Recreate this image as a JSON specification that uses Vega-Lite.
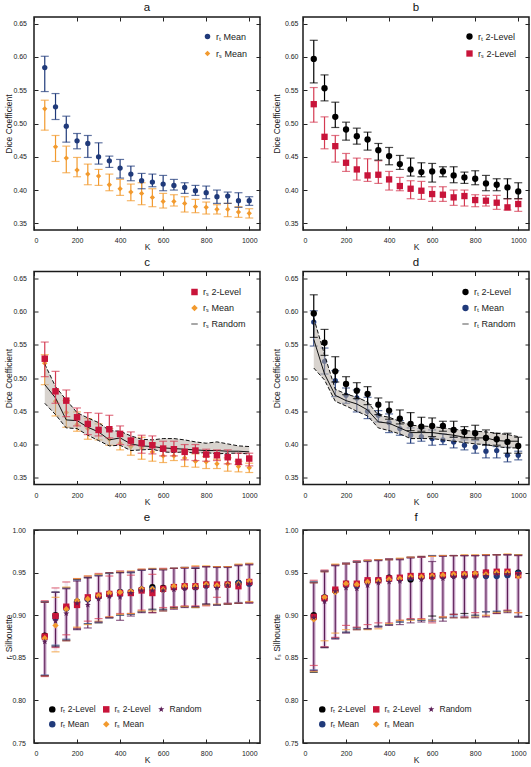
{
"$schema":"https://vega.github.io/schema/vega-lite/v6.json",
"padding":{"left":3,"top":1,"right":0,"bottom":0},
"config":{
 "font":"Liberation Sans",
 "view":{"stroke":"#1a1a1a","strokeWidth":1.5},
 "axis":{"domain":false,"grid":false,"labelFontSize":7,"titleFontSize":8.5,"titleFontWeight":"normal","labelColor":"#222","titleColor":"#222","tickColor":"#222","tickWidth":1},
 "title":{"fontSize":11.5,"fontWeight":"normal","offset":3,"color":"#111"},
 "legend":{"labelFontSize":9,"labelColor":"#222","padding":0,"rowPadding":7,"labelOffset":4,"title":null}
},
"datasets":{
"dice":[
{"K":50,"s":"rₜ Mean","v":0.584,"lo":0.548,"hi":0.601},{"K":100,"s":"rₜ Mean","v":0.525,"lo":0.506,"hi":0.545},{"K":150,"s":"rₜ Mean","v":0.496,"lo":0.472,"hi":0.511},{"K":200,"s":"rₜ Mean","v":0.474,"lo":0.462,"hi":0.485},{"K":250,"s":"rₜ Mean","v":0.470,"lo":0.449,"hi":0.482},{"K":300,"s":"rₜ Mean","v":0.450,"lo":0.439,"hi":0.471},{"K":350,"s":"rₜ Mean","v":0.444,"lo":0.434,"hi":0.451},{"K":400,"s":"rₜ Mean","v":0.433,"lo":0.418,"hi":0.446},{"K":450,"s":"rₜ Mean","v":0.424,"lo":0.414,"hi":0.436},{"K":500,"s":"rₜ Mean","v":0.414,"lo":0.402,"hi":0.425},{"K":550,"s":"rₜ Mean","v":0.412,"lo":0.405,"hi":0.424},{"K":600,"s":"rₜ Mean","v":0.409,"lo":0.399,"hi":0.422},{"K":650,"s":"rₜ Mean","v":0.407,"lo":0.400,"hi":0.416},{"K":700,"s":"rₜ Mean","v":0.404,"lo":0.395,"hi":0.411},{"K":750,"s":"rₜ Mean","v":0.399,"lo":0.392,"hi":0.407},{"K":800,"s":"rₜ Mean","v":0.396,"lo":0.387,"hi":0.406},{"K":850,"s":"rₜ Mean","v":0.390,"lo":0.380,"hi":0.400},{"K":900,"s":"rₜ Mean","v":0.391,"lo":0.380,"hi":0.397},{"K":950,"s":"rₜ Mean","v":0.384,"lo":0.374,"hi":0.396},{"K":1000,"s":"rₜ Mean","v":0.384,"lo":0.377,"hi":0.390},
{"K":50,"s":"rₛ Mean","v":0.522,"lo":0.490,"hi":0.535},{"K":100,"s":"rₛ Mean","v":0.465,"lo":0.443,"hi":0.482},{"K":150,"s":"rₛ Mean","v":0.448,"lo":0.426,"hi":0.466},{"K":200,"s":"rₛ Mean","v":0.430,"lo":0.420,"hi":0.449},{"K":250,"s":"rₛ Mean","v":0.424,"lo":0.408,"hi":0.439},{"K":300,"s":"rₛ Mean","v":0.421,"lo":0.407,"hi":0.431},{"K":350,"s":"rₛ Mean","v":0.408,"lo":0.399,"hi":0.424},{"K":400,"s":"rₛ Mean","v":0.402,"lo":0.392,"hi":0.416},{"K":450,"s":"rₛ Mean","v":0.397,"lo":0.384,"hi":0.409},{"K":500,"s":"rₛ Mean","v":0.395,"lo":0.378,"hi":0.411},{"K":550,"s":"rₛ Mean","v":0.389,"lo":0.375,"hi":0.402},{"K":600,"s":"rₛ Mean","v":0.383,"lo":0.373,"hi":0.395},{"K":650,"s":"rₛ Mean","v":0.383,"lo":0.376,"hi":0.393},{"K":700,"s":"rₛ Mean","v":0.380,"lo":0.367,"hi":0.390},{"K":750,"s":"rₛ Mean","v":0.375,"lo":0.366,"hi":0.386},{"K":800,"s":"rₛ Mean","v":0.374,"lo":0.364,"hi":0.382},{"K":850,"s":"rₛ Mean","v":0.371,"lo":0.364,"hi":0.378},{"K":900,"s":"rₛ Mean","v":0.371,"lo":0.360,"hi":0.380},{"K":950,"s":"rₛ Mean","v":0.367,"lo":0.359,"hi":0.375},{"K":1000,"s":"rₛ Mean","v":0.365,"lo":0.358,"hi":0.372},
{"K":50,"s":"rₜ 2-Level","v":0.597,"lo":0.561,"hi":0.625},{"K":100,"s":"rₜ 2-Level","v":0.553,"lo":0.534,"hi":0.573},{"K":150,"s":"rₜ 2-Level","v":0.510,"lo":0.494,"hi":0.532},{"K":200,"s":"rₜ 2-Level","v":0.491,"lo":0.475,"hi":0.502},{"K":250,"s":"rₜ 2-Level","v":0.481,"lo":0.469,"hi":0.493},{"K":300,"s":"rₜ 2-Level","v":0.476,"lo":0.460,"hi":0.487},{"K":350,"s":"rₜ 2-Level","v":0.460,"lo":0.445,"hi":0.470},{"K":400,"s":"rₜ 2-Level","v":0.451,"lo":0.438,"hi":0.464},{"K":450,"s":"rₜ 2-Level","v":0.439,"lo":0.431,"hi":0.452},{"K":500,"s":"rₜ 2-Level","v":0.431,"lo":0.421,"hi":0.448},{"K":550,"s":"rₜ 2-Level","v":0.427,"lo":0.420,"hi":0.441},{"K":600,"s":"rₜ 2-Level","v":0.428,"lo":0.412,"hi":0.440},{"K":650,"s":"rₜ 2-Level","v":0.428,"lo":0.420,"hi":0.435},{"K":700,"s":"rₜ 2-Level","v":0.422,"lo":0.411,"hi":0.435},{"K":750,"s":"rₜ 2-Level","v":0.419,"lo":0.410,"hi":0.427},{"K":800,"s":"rₜ 2-Level","v":0.417,"lo":0.408,"hi":0.429},{"K":850,"s":"rₜ 2-Level","v":0.410,"lo":0.399,"hi":0.422},{"K":900,"s":"rₜ 2-Level","v":0.408,"lo":0.399,"hi":0.417},{"K":950,"s":"rₜ 2-Level","v":0.404,"lo":0.387,"hi":0.417},{"K":1000,"s":"rₜ 2-Level","v":0.398,"lo":0.387,"hi":0.411},
{"K":50,"s":"rₛ 2-Level","v":0.529,"lo":0.502,"hi":0.554},{"K":100,"s":"rₛ 2-Level","v":0.480,"lo":0.462,"hi":0.510},{"K":150,"s":"rₛ 2-Level","v":0.466,"lo":0.442,"hi":0.482},{"K":200,"s":"rₛ 2-Level","v":0.441,"lo":0.428,"hi":0.455},{"K":250,"s":"rₛ 2-Level","v":0.431,"lo":0.415,"hi":0.448},{"K":300,"s":"rₛ 2-Level","v":0.422,"lo":0.413,"hi":0.447},{"K":350,"s":"rₛ 2-Level","v":0.423,"lo":0.410,"hi":0.444},{"K":400,"s":"rₛ 2-Level","v":0.416,"lo":0.400,"hi":0.428},{"K":450,"s":"rₛ 2-Level","v":0.406,"lo":0.399,"hi":0.419},{"K":500,"s":"rₛ 2-Level","v":0.402,"lo":0.387,"hi":0.414},{"K":550,"s":"rₛ 2-Level","v":0.399,"lo":0.386,"hi":0.413},{"K":600,"s":"rₛ 2-Level","v":0.394,"lo":0.383,"hi":0.405},{"K":650,"s":"rₛ 2-Level","v":0.393,"lo":0.383,"hi":0.405},{"K":700,"s":"rₛ 2-Level","v":0.389,"lo":0.377,"hi":0.400},{"K":750,"s":"rₛ 2-Level","v":0.391,"lo":0.376,"hi":0.400},{"K":800,"s":"rₛ 2-Level","v":0.385,"lo":0.375,"hi":0.393},{"K":850,"s":"rₛ 2-Level","v":0.384,"lo":0.376,"hi":0.392},{"K":900,"s":"rₛ 2-Level","v":0.381,"lo":0.371,"hi":0.392},{"K":950,"s":"rₛ 2-Level","v":0.374,"lo":0.370,"hi":0.387},{"K":1000,"s":"rₛ 2-Level","v":0.379,"lo":0.368,"hi":0.387}
],
"rand":[
{"K":50,"s":"rₛ Random","v":0.490,"lo":0.462,"hi":0.521},{"K":100,"s":"rₛ Random","v":0.470,"lo":0.445,"hi":0.487},{"K":150,"s":"rₛ Random","v":0.437,"lo":0.425,"hi":0.467},{"K":200,"s":"rₛ Random","v":0.436,"lo":0.424,"hi":0.448},{"K":250,"s":"rₛ Random","v":0.426,"lo":0.414,"hi":0.440},{"K":300,"s":"rₛ Random","v":0.419,"lo":0.406,"hi":0.433},{"K":350,"s":"rₛ Random","v":0.407,"lo":0.398,"hi":0.421},{"K":400,"s":"rₛ Random","v":0.410,"lo":0.399,"hi":0.420},{"K":450,"s":"rₛ Random","v":0.401,"lo":0.391,"hi":0.413},{"K":500,"s":"rₛ Random","v":0.398,"lo":0.392,"hi":0.408},{"K":550,"s":"rₛ Random","v":0.397,"lo":0.393,"hi":0.407},{"K":600,"s":"rₛ Random","v":0.395,"lo":0.389,"hi":0.409},{"K":650,"s":"rₛ Random","v":0.394,"lo":0.388,"hi":0.409},{"K":700,"s":"rₛ Random","v":0.393,"lo":0.389,"hi":0.407},{"K":750,"s":"rₛ Random","v":0.392,"lo":0.387,"hi":0.404},{"K":800,"s":"rₛ Random","v":0.391,"lo":0.388,"hi":0.402},{"K":850,"s":"rₛ Random","v":0.391,"lo":0.386,"hi":0.404},{"K":900,"s":"rₛ Random","v":0.390,"lo":0.387,"hi":0.401},{"K":950,"s":"rₛ Random","v":0.390,"lo":0.387,"hi":0.398},{"K":1000,"s":"rₛ Random","v":0.389,"lo":0.386,"hi":0.397},
{"K":50,"s":"rₜ Random","v":0.558,"lo":0.515,"hi":0.590},{"K":100,"s":"rₜ Random","v":0.506,"lo":0.497,"hi":0.535},{"K":150,"s":"rₜ Random","v":0.474,"lo":0.465,"hi":0.483},{"K":200,"s":"rₜ Random","v":0.466,"lo":0.458,"hi":0.476},{"K":250,"s":"rₜ Random","v":0.461,"lo":0.450,"hi":0.471},{"K":300,"s":"rₜ Random","v":0.452,"lo":0.443,"hi":0.464},{"K":350,"s":"rₜ Random","v":0.434,"lo":0.425,"hi":0.444},{"K":400,"s":"rₜ Random","v":0.432,"lo":0.421,"hi":0.441},{"K":450,"s":"rₜ Random","v":0.425,"lo":0.416,"hi":0.435},{"K":500,"s":"rₜ Random","v":0.418,"lo":0.409,"hi":0.429},{"K":550,"s":"rₜ Random","v":0.418,"lo":0.409,"hi":0.428},{"K":600,"s":"rₜ Random","v":0.418,"lo":0.409,"hi":0.427},{"K":650,"s":"rₜ Random","v":0.416,"lo":0.407,"hi":0.425},{"K":700,"s":"rₜ Random","v":0.414,"lo":0.405,"hi":0.423},{"K":750,"s":"rₜ Random","v":0.411,"lo":0.403,"hi":0.421},{"K":800,"s":"rₜ Random","v":0.410,"lo":0.401,"hi":0.420},{"K":850,"s":"rₜ Random","v":0.410,"lo":0.400,"hi":0.419},{"K":900,"s":"rₜ Random","v":0.406,"lo":0.397,"hi":0.417},{"K":950,"s":"rₜ Random","v":0.405,"lo":0.395,"hi":0.415},{"K":1000,"s":"rₜ Random","v":0.405,"lo":0.395,"hi":0.412}
],
"silT":[
{"K":50,"s":"rₜ 2-Level","v":0.876,"lo":0.829,"hi":0.916},{"K":50,"s":"rₜ Mean","v":0.874,"lo":0.830,"hi":0.916},{"K":50,"s":"rₛ 2-Level","v":0.875,"lo":0.828,"hi":0.917},{"K":50,"s":"rₛ Mean","v":0.873,"lo":0.829,"hi":0.915},{"K":50,"s":"Random","v":0.869,"lo":0.829,"hi":0.915},
{"K":100,"s":"rₜ 2-Level","v":0.900,"lo":0.864,"hi":0.927},{"K":100,"s":"rₜ Mean","v":0.897,"lo":0.865,"hi":0.927},{"K":100,"s":"rₛ 2-Level","v":0.899,"lo":0.862,"hi":0.932},{"K":100,"s":"rₛ Mean","v":0.888,"lo":0.857,"hi":0.921},{"K":100,"s":"Random","v":0.893,"lo":0.863,"hi":0.927},
{"K":150,"s":"rₜ 2-Level","v":0.909,"lo":0.871,"hi":0.932},{"K":150,"s":"rₜ Mean","v":0.908,"lo":0.872,"hi":0.932},{"K":150,"s":"rₛ 2-Level","v":0.910,"lo":0.877,"hi":0.939},{"K":150,"s":"rₛ Mean","v":0.907,"lo":0.870,"hi":0.933},{"K":150,"s":"Random","v":0.902,"lo":0.870,"hi":0.931},
{"K":200,"s":"rₜ 2-Level","v":0.916,"lo":0.884,"hi":0.942},{"K":200,"s":"rₜ Mean","v":0.915,"lo":0.884,"hi":0.941},{"K":200,"s":"rₛ 2-Level","v":0.912,"lo":0.885,"hi":0.943},{"K":200,"s":"rₛ Mean","v":0.917,"lo":0.886,"hi":0.943},{"K":200,"s":"Random","v":0.914,"lo":0.883,"hi":0.940},
{"K":250,"s":"rₜ 2-Level","v":0.919,"lo":0.890,"hi":0.944},{"K":250,"s":"rₜ Mean","v":0.919,"lo":0.890,"hi":0.945},{"K":250,"s":"rₛ 2-Level","v":0.921,"lo":0.893,"hi":0.946},{"K":250,"s":"rₛ Mean","v":0.919,"lo":0.889,"hi":0.946},{"K":250,"s":"Random","v":0.912,"lo":0.885,"hi":0.944},
{"K":300,"s":"rₜ 2-Level","v":0.922,"lo":0.891,"hi":0.947},{"K":300,"s":"rₜ Mean","v":0.922,"lo":0.892,"hi":0.947},{"K":300,"s":"rₛ 2-Level","v":0.923,"lo":0.896,"hi":0.949},{"K":300,"s":"rₛ Mean","v":0.923,"lo":0.893,"hi":0.948},{"K":300,"s":"Random","v":0.919,"lo":0.892,"hi":0.946},
{"K":350,"s":"rₜ 2-Level","v":0.925,"lo":0.897,"hi":0.949},{"K":350,"s":"rₜ Mean","v":0.924,"lo":0.897,"hi":0.949},{"K":350,"s":"rₛ 2-Level","v":0.925,"lo":0.898,"hi":0.946},{"K":350,"s":"rₛ Mean","v":0.926,"lo":0.898,"hi":0.950},{"K":350,"s":"Random","v":0.922,"lo":0.897,"hi":0.950},
{"K":400,"s":"rₜ 2-Level","v":0.927,"lo":0.900,"hi":0.950},{"K":400,"s":"rₜ Mean","v":0.927,"lo":0.900,"hi":0.951},{"K":400,"s":"rₛ 2-Level","v":0.926,"lo":0.902,"hi":0.952},{"K":400,"s":"rₛ Mean","v":0.927,"lo":0.901,"hi":0.951},{"K":400,"s":"Random","v":0.921,"lo":0.894,"hi":0.950},
{"K":450,"s":"rₜ 2-Level","v":0.927,"lo":0.901,"hi":0.950},{"K":450,"s":"rₜ Mean","v":0.927,"lo":0.901,"hi":0.950},{"K":450,"s":"rₛ 2-Level","v":0.926,"lo":0.902,"hi":0.947},{"K":450,"s":"rₛ Mean","v":0.928,"lo":0.902,"hi":0.952},{"K":450,"s":"Random","v":0.926,"lo":0.899,"hi":0.951},
{"K":500,"s":"rₜ 2-Level","v":0.930,"lo":0.904,"hi":0.953},{"K":500,"s":"rₜ Mean","v":0.930,"lo":0.904,"hi":0.953},{"K":500,"s":"rₛ 2-Level","v":0.929,"lo":0.906,"hi":0.954},{"K":500,"s":"rₛ Mean","v":0.931,"lo":0.905,"hi":0.954},{"K":500,"s":"Random","v":0.929,"lo":0.903,"hi":0.953},
{"K":550,"s":"rₜ 2-Level","v":0.933,"lo":0.907,"hi":0.954},{"K":550,"s":"rₜ Mean","v":0.931,"lo":0.906,"hi":0.954},{"K":550,"s":"rₛ 2-Level","v":0.926,"lo":0.903,"hi":0.948},{"K":550,"s":"rₛ Mean","v":0.931,"lo":0.905,"hi":0.955},{"K":550,"s":"Random","v":0.929,"lo":0.903,"hi":0.954},
{"K":600,"s":"rₜ 2-Level","v":0.932,"lo":0.907,"hi":0.954},{"K":600,"s":"rₜ Mean","v":0.931,"lo":0.906,"hi":0.954},{"K":600,"s":"rₛ 2-Level","v":0.931,"lo":0.909,"hi":0.955},{"K":600,"s":"rₛ Mean","v":0.930,"lo":0.905,"hi":0.954},{"K":600,"s":"Random","v":0.929,"lo":0.905,"hi":0.953},
{"K":650,"s":"rₜ 2-Level","v":0.933,"lo":0.909,"hi":0.955},{"K":650,"s":"rₜ Mean","v":0.933,"lo":0.908,"hi":0.955},{"K":650,"s":"rₛ 2-Level","v":0.933,"lo":0.910,"hi":0.955},{"K":650,"s":"rₛ Mean","v":0.934,"lo":0.908,"hi":0.955},{"K":650,"s":"Random","v":0.930,"lo":0.907,"hi":0.955},
{"K":700,"s":"rₜ 2-Level","v":0.933,"lo":0.910,"hi":0.956},{"K":700,"s":"rₜ Mean","v":0.933,"lo":0.910,"hi":0.956},{"K":700,"s":"rₛ 2-Level","v":0.934,"lo":0.911,"hi":0.956},{"K":700,"s":"rₛ Mean","v":0.934,"lo":0.910,"hi":0.956},{"K":700,"s":"Random","v":0.931,"lo":0.909,"hi":0.955},
{"K":750,"s":"rₜ 2-Level","v":0.933,"lo":0.909,"hi":0.955},{"K":750,"s":"rₜ Mean","v":0.933,"lo":0.910,"hi":0.956},{"K":750,"s":"rₛ 2-Level","v":0.934,"lo":0.911,"hi":0.957},{"K":750,"s":"rₛ Mean","v":0.934,"lo":0.909,"hi":0.958},{"K":750,"s":"Random","v":0.932,"lo":0.910,"hi":0.955},
{"K":800,"s":"rₜ 2-Level","v":0.936,"lo":0.913,"hi":0.957},{"K":800,"s":"rₜ Mean","v":0.935,"lo":0.912,"hi":0.957},{"K":800,"s":"rₛ 2-Level","v":0.936,"lo":0.911,"hi":0.957},{"K":800,"s":"rₛ Mean","v":0.936,"lo":0.912,"hi":0.958},{"K":800,"s":"Random","v":0.934,"lo":0.913,"hi":0.957},
{"K":850,"s":"rₜ 2-Level","v":0.935,"lo":0.912,"hi":0.957},{"K":850,"s":"rₜ Mean","v":0.935,"lo":0.912,"hi":0.957},{"K":850,"s":"rₛ 2-Level","v":0.936,"lo":0.921,"hi":0.957},{"K":850,"s":"rₛ Mean","v":0.935,"lo":0.913,"hi":0.957},{"K":850,"s":"Random","v":0.932,"lo":0.912,"hi":0.956},
{"K":900,"s":"rₜ 2-Level","v":0.936,"lo":0.913,"hi":0.957},{"K":900,"s":"rₜ Mean","v":0.936,"lo":0.914,"hi":0.957},{"K":900,"s":"rₛ 2-Level","v":0.936,"lo":0.914,"hi":0.957},{"K":900,"s":"rₛ Mean","v":0.936,"lo":0.913,"hi":0.957},{"K":900,"s":"Random","v":0.935,"lo":0.913,"hi":0.956},
{"K":950,"s":"rₜ 2-Level","v":0.938,"lo":0.914,"hi":0.959},{"K":950,"s":"rₜ Mean","v":0.938,"lo":0.915,"hi":0.959},{"K":950,"s":"rₛ 2-Level","v":0.934,"lo":0.914,"hi":0.959},{"K":950,"s":"rₛ Mean","v":0.937,"lo":0.914,"hi":0.960},{"K":950,"s":"Random","v":0.936,"lo":0.914,"hi":0.958},
{"K":1000,"s":"rₜ 2-Level","v":0.938,"lo":0.915,"hi":0.960},{"K":1000,"s":"rₜ Mean","v":0.937,"lo":0.915,"hi":0.960},{"K":1000,"s":"rₛ 2-Level","v":0.939,"lo":0.915,"hi":0.960},{"K":1000,"s":"rₛ Mean","v":0.940,"lo":0.916,"hi":0.961},{"K":1000,"s":"Random","v":0.937,"lo":0.914,"hi":0.959}
],
"silS":[
{"K":50,"s":"rₜ 2-Level","v":0.900,"lo":0.833,"hi":0.939},{"K":50,"s":"rₜ Mean","v":0.898,"lo":0.836,"hi":0.939},{"K":50,"s":"rₛ 2-Level","v":0.898,"lo":0.841,"hi":0.941},{"K":50,"s":"rₛ Mean","v":0.895,"lo":0.834,"hi":0.938},{"K":50,"s":"Random","v":0.897,"lo":0.835,"hi":0.938},
{"K":100,"s":"rₜ 2-Level","v":0.921,"lo":0.862,"hi":0.952},{"K":100,"s":"rₜ Mean","v":0.920,"lo":0.863,"hi":0.952},{"K":100,"s":"rₛ 2-Level","v":0.920,"lo":0.863,"hi":0.953},{"K":100,"s":"rₛ Mean","v":0.921,"lo":0.870,"hi":0.951},{"K":100,"s":"Random","v":0.916,"lo":0.862,"hi":0.951},
{"K":150,"s":"rₜ 2-Level","v":0.929,"lo":0.873,"hi":0.959},{"K":150,"s":"rₜ Mean","v":0.929,"lo":0.873,"hi":0.959},{"K":150,"s":"rₛ 2-Level","v":0.930,"lo":0.874,"hi":0.959},{"K":150,"s":"rₛ Mean","v":0.927,"lo":0.879,"hi":0.960},{"K":150,"s":"Random","v":0.928,"lo":0.872,"hi":0.958},
{"K":200,"s":"rₜ 2-Level","v":0.937,"lo":0.880,"hi":0.961},{"K":200,"s":"rₜ Mean","v":0.936,"lo":0.880,"hi":0.961},{"K":200,"s":"rₛ 2-Level","v":0.937,"lo":0.888,"hi":0.961},{"K":200,"s":"rₛ Mean","v":0.937,"lo":0.883,"hi":0.960},{"K":200,"s":"Random","v":0.932,"lo":0.879,"hi":0.960},
{"K":250,"s":"rₜ 2-Level","v":0.936,"lo":0.885,"hi":0.963},{"K":250,"s":"rₜ Mean","v":0.935,"lo":0.885,"hi":0.963},{"K":250,"s":"rₛ 2-Level","v":0.937,"lo":0.886,"hi":0.964},{"K":250,"s":"rₛ Mean","v":0.936,"lo":0.883,"hi":0.962},{"K":250,"s":"Random","v":0.931,"lo":0.883,"hi":0.962},
{"K":300,"s":"rₜ 2-Level","v":0.940,"lo":0.884,"hi":0.964},{"K":300,"s":"rₜ Mean","v":0.940,"lo":0.884,"hi":0.964},{"K":300,"s":"rₛ 2-Level","v":0.941,"lo":0.889,"hi":0.965},{"K":300,"s":"rₛ Mean","v":0.939,"lo":0.883,"hi":0.964},{"K":300,"s":"Random","v":0.935,"lo":0.884,"hi":0.963},
{"K":350,"s":"rₜ 2-Level","v":0.941,"lo":0.887,"hi":0.965},{"K":350,"s":"rₜ Mean","v":0.941,"lo":0.887,"hi":0.965},{"K":350,"s":"rₛ 2-Level","v":0.941,"lo":0.891,"hi":0.965},{"K":350,"s":"rₛ Mean","v":0.940,"lo":0.884,"hi":0.965},{"K":350,"s":"Random","v":0.938,"lo":0.886,"hi":0.964},
{"K":400,"s":"rₜ 2-Level","v":0.944,"lo":0.889,"hi":0.966},{"K":400,"s":"rₜ Mean","v":0.943,"lo":0.889,"hi":0.966},{"K":400,"s":"rₛ 2-Level","v":0.943,"lo":0.891,"hi":0.966},{"K":400,"s":"rₛ Mean","v":0.942,"lo":0.890,"hi":0.965},{"K":400,"s":"Random","v":0.939,"lo":0.888,"hi":0.965},
{"K":450,"s":"rₜ 2-Level","v":0.943,"lo":0.892,"hi":0.966},{"K":450,"s":"rₜ Mean","v":0.943,"lo":0.892,"hi":0.966},{"K":450,"s":"rₛ 2-Level","v":0.944,"lo":0.894,"hi":0.966},{"K":450,"s":"rₛ Mean","v":0.943,"lo":0.894,"hi":0.967},{"K":450,"s":"Random","v":0.940,"lo":0.889,"hi":0.965},
{"K":500,"s":"rₜ 2-Level","v":0.942,"lo":0.895,"hi":0.968},{"K":500,"s":"rₜ Mean","v":0.944,"lo":0.895,"hi":0.968},{"K":500,"s":"rₛ 2-Level","v":0.946,"lo":0.896,"hi":0.968},{"K":500,"s":"rₛ Mean","v":0.945,"lo":0.894,"hi":0.968},{"K":500,"s":"Random","v":0.943,"lo":0.891,"hi":0.967},
{"K":550,"s":"rₜ 2-Level","v":0.945,"lo":0.894,"hi":0.968},{"K":550,"s":"rₜ Mean","v":0.945,"lo":0.894,"hi":0.968},{"K":550,"s":"rₛ 2-Level","v":0.946,"lo":0.896,"hi":0.968},{"K":550,"s":"rₛ Mean","v":0.945,"lo":0.895,"hi":0.969},{"K":550,"s":"Random","v":0.942,"lo":0.892,"hi":0.969},
{"K":600,"s":"rₜ 2-Level","v":0.946,"lo":0.899,"hi":0.970},{"K":600,"s":"rₜ Mean","v":0.946,"lo":0.895,"hi":0.970},{"K":600,"s":"rₛ 2-Level","v":0.946,"lo":0.891,"hi":0.969},{"K":600,"s":"rₛ Mean","v":0.946,"lo":0.894,"hi":0.969},{"K":600,"s":"Random","v":0.944,"lo":0.893,"hi":0.963},
{"K":650,"s":"rₜ 2-Level","v":0.946,"lo":0.897,"hi":0.970},{"K":650,"s":"rₜ Mean","v":0.946,"lo":0.897,"hi":0.970},{"K":650,"s":"rₛ 2-Level","v":0.947,"lo":0.898,"hi":0.970},{"K":650,"s":"rₛ Mean","v":0.947,"lo":0.898,"hi":0.970},{"K":650,"s":"Random","v":0.943,"lo":0.893,"hi":0.969},
{"K":700,"s":"rₜ 2-Level","v":0.947,"lo":0.901,"hi":0.970},{"K":700,"s":"rₜ Mean","v":0.947,"lo":0.899,"hi":0.970},{"K":700,"s":"rₛ 2-Level","v":0.948,"lo":0.901,"hi":0.970},{"K":700,"s":"rₛ Mean","v":0.948,"lo":0.897,"hi":0.970},{"K":700,"s":"Random","v":0.945,"lo":0.897,"hi":0.970},
{"K":750,"s":"rₜ 2-Level","v":0.947,"lo":0.902,"hi":0.970},{"K":750,"s":"rₜ Mean","v":0.946,"lo":0.899,"hi":0.970},{"K":750,"s":"rₛ 2-Level","v":0.948,"lo":0.898,"hi":0.970},{"K":750,"s":"rₛ Mean","v":0.948,"lo":0.897,"hi":0.971},{"K":750,"s":"Random","v":0.945,"lo":0.897,"hi":0.970},
{"K":800,"s":"rₜ 2-Level","v":0.948,"lo":0.900,"hi":0.970},{"K":800,"s":"rₜ Mean","v":0.947,"lo":0.899,"hi":0.970},{"K":800,"s":"rₛ 2-Level","v":0.948,"lo":0.903,"hi":0.970},{"K":800,"s":"rₛ Mean","v":0.949,"lo":0.898,"hi":0.971},{"K":800,"s":"Random","v":0.945,"lo":0.897,"hi":0.970},
{"K":850,"s":"rₜ 2-Level","v":0.950,"lo":0.904,"hi":0.971},{"K":850,"s":"rₜ Mean","v":0.946,"lo":0.904,"hi":0.971},{"K":850,"s":"rₛ 2-Level","v":0.950,"lo":0.899,"hi":0.971},{"K":850,"s":"rₛ Mean","v":0.948,"lo":0.900,"hi":0.971},{"K":850,"s":"Random","v":0.946,"lo":0.898,"hi":0.970},
{"K":900,"s":"rₜ 2-Level","v":0.950,"lo":0.904,"hi":0.971},{"K":900,"s":"rₜ Mean","v":0.946,"lo":0.905,"hi":0.971},{"K":900,"s":"rₛ 2-Level","v":0.951,"lo":0.902,"hi":0.971},{"K":900,"s":"rₛ Mean","v":0.950,"lo":0.903,"hi":0.971},{"K":900,"s":"Random","v":0.948,"lo":0.902,"hi":0.971},
{"K":950,"s":"rₜ 2-Level","v":0.949,"lo":0.905,"hi":0.971},{"K":950,"s":"rₜ Mean","v":0.947,"lo":0.905,"hi":0.971},{"K":950,"s":"rₛ 2-Level","v":0.951,"lo":0.906,"hi":0.971},{"K":950,"s":"rₛ Mean","v":0.950,"lo":0.904,"hi":0.972},{"K":950,"s":"Random","v":0.948,"lo":0.903,"hi":0.971},
{"K":1000,"s":"rₜ 2-Level","v":0.950,"lo":0.898,"hi":0.971},{"K":1000,"s":"rₜ Mean","v":0.949,"lo":0.899,"hi":0.971},{"K":1000,"s":"rₛ 2-Level","v":0.947,"lo":0.903,"hi":0.970},{"K":1000,"s":"rₛ Mean","v":0.946,"lo":0.903,"hi":0.971},{"K":1000,"s":"Random","v":0.948,"lo":0.898,"hi":0.970}
]
},
"resolve":{"scale":{"color":"independent","shape":"independent"},"legend":{"color":"independent","shape":"independent"}},
"spacing":3.5,
"vconcat":[
{"hconcat":[
 {"width":226,"height":213,"title":"a",
  "data":{"name":"dice"},
  "transform":[{"filter":{"field":"s","oneOf":["rₜ Mean","rₛ Mean"]}}],
  "layer":[
   {"mark":{"type":"rule","strokeWidth":1.2},
    "encoding":{"x":{"field":"K","type":"quantitative","scale":{"domain":[0,1050],"nice":false},"axis":{"orient":"top","values":[0,200,400,600,800,1000],"labels":false,"title":null,"tickSize":-4,"minExtent":0,"maxExtent":0}},
     "y":{"field":"lo","type":"quantitative","scale":{"domain":[0.34,0.66],"nice":false,"zero":false},"axis":{"orient":"right","values":[0.35,0.4,0.45,0.5,0.55,0.6,0.65],"labels":false,"title":null,"tickSize":-4,"minExtent":0,"maxExtent":0}},
     "y2":{"field":"hi"},
     "stroke":{"condition":{"test":"datum.s == 'rₜ Mean'","value":"#203a7a"},"value":"#f29a2e"}}},
   {"mark":{"type":"tick","orient":"horizontal","size":8,"thickness":1.2},
    "encoding":{"x":{"field":"K","type":"quantitative","axis":null},"y":{"field":"hi","type":"quantitative","axis":null},
     "fill":{"condition":{"test":"datum.s == 'rₜ Mean'","value":"#203a7a"},"value":"#f29a2e"}}},
   {"mark":{"type":"tick","orient":"horizontal","size":8,"thickness":1.2},
    "encoding":{"x":{"field":"K","type":"quantitative","axis":null},"y":{"field":"lo","type":"quantitative","axis":null},
     "fill":{"condition":{"test":"datum.s == 'rₜ Mean'","value":"#203a7a"},"value":"#f29a2e"}}},
   {"mark":{"type":"point","filled":true,"size":28,"opacity":1},
    "encoding":{"x":{"field":"K","type":"quantitative","axis":{"orient":"bottom","values":[0,200,400,600,800,1000],"format":"d","title":"K","tickSize":-4,"labelPadding":10.6,"minExtent":14,"maxExtent":14,"titlePadding":-1.5}},
     "y":{"field":"v","type":"quantitative","axis":{"orient":"left","values":[0.35,0.4,0.45,0.5,0.55,0.6,0.65],"format":".2f","title":"Dice Coefficient","tickSize":-4,"labelPadding":11.5,"minExtent":21,"maxExtent":21,"titlePadding":0}},
     "color":{"field":"s","type":"nominal","scale":{"domain":["rₜ Mean","rₛ Mean"],"range":["#203a7a","#f29a2e"]},"legend":{"orient":"none","legendX":169,"legendY":15,"symbolSize":30,"rowPadding":7}},
     "shape":{"field":"s","type":"nominal","scale":{"domain":["rₜ Mean","rₛ Mean"],"range":["circle","diamond"]},"legend":{"orient":"none","legendX":169,"legendY":15,"symbolSize":30,"rowPadding":7}}}}
  ],
  "resolve":{"axis":{"x":"independent","y":"independent"}}},
 {"width":226,"height":213,"title":"b",
  "data":{"name":"dice"},
  "transform":[{"filter":{"field":"s","oneOf":["rₜ 2-Level","rₛ 2-Level"]}}],
  "layer":[
   {"mark":{"type":"rule","strokeWidth":1.2},
    "encoding":{"x":{"field":"K","type":"quantitative","scale":{"domain":[0,1050],"nice":false},"axis":{"orient":"top","values":[0,200,400,600,800,1000],"labels":false,"title":null,"tickSize":-4,"minExtent":0,"maxExtent":0}},
     "y":{"field":"lo","type":"quantitative","scale":{"domain":[0.34,0.66],"nice":false,"zero":false},"axis":{"orient":"right","values":[0.35,0.4,0.45,0.5,0.55,0.6,0.65],"labels":false,"title":null,"tickSize":-4,"minExtent":0,"maxExtent":0}},
     "y2":{"field":"hi"},
     "stroke":{"condition":{"test":"datum.s == 'rₜ 2-Level'","value":"#000000"},"value":"#d43a52"}}},
   {"mark":{"type":"tick","orient":"horizontal","size":8,"thickness":1.2},
    "encoding":{"x":{"field":"K","type":"quantitative","axis":null},"y":{"field":"hi","type":"quantitative","axis":null},
     "fill":{"condition":{"test":"datum.s == 'rₜ 2-Level'","value":"#000000"},"value":"#d43a52"}}},
   {"mark":{"type":"tick","orient":"horizontal","size":8,"thickness":1.2},
    "encoding":{"x":{"field":"K","type":"quantitative","axis":null},"y":{"field":"lo","type":"quantitative","axis":null},
     "fill":{"condition":{"test":"datum.s == 'rₜ 2-Level'","value":"#000000"},"value":"#d43a52"}}},
   {"mark":{"type":"point","filled":true,"size":40,"opacity":1},
    "encoding":{"x":{"field":"K","type":"quantitative","axis":{"orient":"bottom","values":[0,200,400,600,800,1000],"format":"d","title":"K","tickSize":-4,"labelPadding":10.6,"minExtent":14,"maxExtent":14,"titlePadding":-1.5}},
     "y":{"field":"v","type":"quantitative","axis":{"orient":"left","values":[0.35,0.4,0.45,0.5,0.55,0.6,0.65],"format":".2f","title":"Dice Coefficient","tickSize":-4,"labelPadding":9,"minExtent":19,"maxExtent":19,"titlePadding":3}},
     "color":{"field":"s","type":"nominal","scale":{"domain":["rₜ 2-Level","rₛ 2-Level"],"range":["#000000","#c8143a"]},"legend":{"orient":"none","legendX":162,"legendY":15,"symbolSize":40,"rowPadding":7}},
     "shape":{"field":"s","type":"nominal","scale":{"domain":["rₜ 2-Level","rₛ 2-Level"],"range":["circle","square"]},"legend":{"orient":"none","legendX":162,"legendY":15,"symbolSize":40,"rowPadding":7}}}}
  ],
  "resolve":{"axis":{"x":"independent","y":"independent"}}}
 ],
 "spacing":9,
 "resolve":{"scale":{"color":"independent","shape":"independent"},"legend":{"color":"independent","shape":"independent"}}},
{"hconcat":[
 {"width":226,"height":213,"title":"c",
  "layer":[
   {"data":{"name":"dice"},"transform":[{"filter":{"field":"s","equal":"rₛ Mean"}}],
    "mark":{"type":"rule","strokeWidth":1.2,"color":"#f29a2e"},
    "encoding":{"x":{"field":"K","type":"quantitative","scale":{"domain":[0,1050],"nice":false},"axis":{"orient":"top","values":[0,200,400,600,800,1000],"labels":false,"title":null,"tickSize":-4,"minExtent":0,"maxExtent":0}},
     "y":{"field":"lo","type":"quantitative","scale":{"domain":[0.34,0.66],"nice":false,"zero":false},"axis":{"orient":"right","values":[0.35,0.4,0.45,0.5,0.55,0.6,0.65],"labels":false,"title":null,"tickSize":-4,"minExtent":0,"maxExtent":0}},
     "y2":{"field":"hi"}}},
   {"data":{"name":"dice"},"transform":[{"filter":{"field":"s","equal":"rₛ Mean"}}],
    "mark":{"type":"tick","orient":"horizontal","size":8,"thickness":1.2,"color":"#f29a2e"},
    "encoding":{"x":{"field":"K","type":"quantitative","axis":null},"y":{"field":"hi","type":"quantitative","axis":null}}},
   {"data":{"name":"dice"},"transform":[{"filter":{"field":"s","equal":"rₛ Mean"}}],
    "mark":{"type":"tick","orient":"horizontal","size":8,"thickness":1.2,"color":"#f29a2e"},
    "encoding":{"x":{"field":"K","type":"quantitative","axis":null},"y":{"field":"lo","type":"quantitative","axis":null}}},
   {"data":{"name":"dice"},"transform":[{"filter":{"field":"s","equal":"rₛ Mean"}}],
    "mark":{"type":"point","filled":true,"size":30,"opacity":1},
    "encoding":{"x":{"field":"K","type":"quantitative","axis":null},"y":{"field":"v","type":"quantitative","axis":null},
     "color":{"field":"s","type":"nominal","scale":{"domain":["rₛ 2-Level","rₛ Mean","rₛ Random"],"range":["#c8143a","#f29a2e","#555555"]},"legend":{"orient":"none","legendX":156,"legendY":16,"symbolSize":42,"rowPadding":6}},
     "shape":{"field":"s","type":"nominal","scale":{"domain":["rₛ 2-Level","rₛ Mean","rₛ Random"],"range":["square","diamond","M-1,-0.16L1,-0.16L1,0.16L-1,0.16Z"]},"legend":{"orient":"none","legendX":156,"legendY":16,"symbolSize":42,"rowPadding":6}}}},
   {"data":{"name":"rand"},"transform":[{"filter":{"field":"s","equal":"rₛ Random"}}],
    "mark":{"type":"area","color":"#b8aea6","opacity":0.55},
    "encoding":{"x":{"field":"K","type":"quantitative","axis":null},"y":{"field":"lo","type":"quantitative","axis":null},"y2":{"field":"hi"}}},
   {"data":{"name":"rand"},"transform":[{"filter":{"field":"s","equal":"rₛ Random"}}],
    "mark":{"type":"line","color":"#111","strokeWidth":1,"strokeDash":[4,2]},
    "encoding":{"x":{"field":"K","type":"quantitative","axis":null},"y":{"field":"hi","type":"quantitative","axis":null}}},
   {"data":{"name":"rand"},"transform":[{"filter":{"field":"s","equal":"rₛ Random"}}],
    "mark":{"type":"line","color":"#111","strokeWidth":1,"strokeDash":[4,2]},
    "encoding":{"x":{"field":"K","type":"quantitative","axis":null},"y":{"field":"lo","type":"quantitative","axis":null}}},
   {"data":{"name":"rand"},"transform":[{"filter":{"field":"s","equal":"rₛ Random"}}],
    "mark":{"type":"line","color":"#111","strokeWidth":1},
    "encoding":{"x":{"field":"K","type":"quantitative","axis":null},"y":{"field":"v","type":"quantitative","axis":null}}},
   {"data":{"name":"dice"},"transform":[{"filter":{"field":"s","equal":"rₛ 2-Level"}}],
    "mark":{"type":"rule","strokeWidth":1.2,"color":"#d43a52"},
    "encoding":{"x":{"field":"K","type":"quantitative","axis":null},"y":{"field":"lo","type":"quantitative","axis":null},"y2":{"field":"hi"}}},
   {"data":{"name":"dice"},"transform":[{"filter":{"field":"s","equal":"rₛ 2-Level"}}],
    "mark":{"type":"tick","orient":"horizontal","size":8,"thickness":1.2,"color":"#d43a52"},
    "encoding":{"x":{"field":"K","type":"quantitative","axis":null},"y":{"field":"hi","type":"quantitative","axis":null}}},
   {"data":{"name":"dice"},"transform":[{"filter":{"field":"s","equal":"rₛ 2-Level"}}],
    "mark":{"type":"tick","orient":"horizontal","size":8,"thickness":1.2,"color":"#d43a52"},
    "encoding":{"x":{"field":"K","type":"quantitative","axis":null},"y":{"field":"lo","type":"quantitative","axis":null}}},
   {"data":{"name":"dice"},"transform":[{"filter":{"field":"s","equal":"rₛ 2-Level"}}],
    "mark":{"type":"point","filled":true,"size":42,"opacity":1},
    "encoding":{"x":{"field":"K","type":"quantitative","axis":{"orient":"bottom","values":[0,200,400,600,800,1000],"format":"d","title":"K","tickSize":-4,"labelPadding":10.6,"minExtent":14,"maxExtent":14,"titlePadding":-1.5}},
     "y":{"field":"v","type":"quantitative","axis":{"orient":"left","values":[0.35,0.4,0.45,0.5,0.55,0.6,0.65],"format":".2f","title":"Dice Coefficient","tickSize":-4,"labelPadding":11.5,"minExtent":21,"maxExtent":21,"titlePadding":0}},
     "color":{"field":"s","type":"nominal","scale":{"domain":["rₛ 2-Level","rₛ Mean","rₛ Random"],"range":["#c8143a","#f29a2e","#555555"]},"legend":{"orient":"none","legendX":156,"legendY":16,"symbolSize":42,"rowPadding":6}},
     "shape":{"field":"s","type":"nominal","scale":{"domain":["rₛ 2-Level","rₛ Mean","rₛ Random"],"range":["square","diamond","M-1,-0.16L1,-0.16L1,0.16L-1,0.16Z"]},"legend":{"orient":"none","legendX":156,"legendY":16,"symbolSize":42,"rowPadding":6}}}}
  ],
  "resolve":{"axis":{"x":"independent","y":"independent"}}},
 {"width":226,"height":213,"title":"d",
  "layer":[
   {"data":{"name":"dice"},"transform":[{"filter":{"field":"s","equal":"rₜ Mean"}}],
    "mark":{"type":"rule","strokeWidth":1.2,"color":"#203a7a"},
    "encoding":{"x":{"field":"K","type":"quantitative","scale":{"domain":[0,1050],"nice":false},"axis":{"orient":"top","values":[0,200,400,600,800,1000],"labels":false,"title":null,"tickSize":-4,"minExtent":0,"maxExtent":0}},
     "y":{"field":"lo","type":"quantitative","scale":{"domain":[0.34,0.66],"nice":false,"zero":false},"axis":{"orient":"right","values":[0.35,0.4,0.45,0.5,0.55,0.6,0.65],"labels":false,"title":null,"tickSize":-4,"minExtent":0,"maxExtent":0}},
     "y2":{"field":"hi"}}},
   {"data":{"name":"dice"},"transform":[{"filter":{"field":"s","equal":"rₜ Mean"}}],
    "mark":{"type":"tick","orient":"horizontal","size":8,"thickness":1.2,"color":"#203a7a"},
    "encoding":{"x":{"field":"K","type":"quantitative","axis":null},"y":{"field":"hi","type":"quantitative","axis":null}}},
   {"data":{"name":"dice"},"transform":[{"filter":{"field":"s","equal":"rₜ Mean"}}],
    "mark":{"type":"tick","orient":"horizontal","size":8,"thickness":1.2,"color":"#203a7a"},
    "encoding":{"x":{"field":"K","type":"quantitative","axis":null},"y":{"field":"lo","type":"quantitative","axis":null}}},
   {"data":{"name":"dice"},"transform":[{"filter":{"field":"s","equal":"rₜ Mean"}}],
    "mark":{"type":"point","filled":true,"size":28,"opacity":1},
    "encoding":{"x":{"field":"K","type":"quantitative","axis":null},"y":{"field":"v","type":"quantitative","axis":null},
     "color":{"field":"s","type":"nominal","scale":{"domain":["rₜ 2-Level","rₜ Mean","rₜ Random"],"range":["#000000","#203a7a","#555555"]},"legend":{"orient":"none","legendX":158,"legendY":16,"symbolSize":40,"rowPadding":6}},
     "shape":{"field":"s","type":"nominal","scale":{"domain":["rₜ 2-Level","rₜ Mean","rₜ Random"],"range":["circle","circle","M-1,-0.16L1,-0.16L1,0.16L-1,0.16Z"]},"legend":{"orient":"none","legendX":158,"legendY":16,"symbolSize":40,"rowPadding":6}}}},
   {"data":{"name":"rand"},"transform":[{"filter":{"field":"s","equal":"rₜ Random"}}],
    "mark":{"type":"area","color":"#b8aea6","opacity":0.55},
    "encoding":{"x":{"field":"K","type":"quantitative","axis":null},"y":{"field":"lo","type":"quantitative","axis":null},"y2":{"field":"hi"}}},
   {"data":{"name":"rand"},"transform":[{"filter":{"field":"s","equal":"rₜ Random"}}],
    "mark":{"type":"line","color":"#111","strokeWidth":1,"strokeDash":[4,2]},
    "encoding":{"x":{"field":"K","type":"quantitative","axis":null},"y":{"field":"hi","type":"quantitative","axis":null}}},
   {"data":{"name":"rand"},"transform":[{"filter":{"field":"s","equal":"rₜ Random"}}],
    "mark":{"type":"line","color":"#111","strokeWidth":1,"strokeDash":[4,2]},
    "encoding":{"x":{"field":"K","type":"quantitative","axis":null},"y":{"field":"lo","type":"quantitative","axis":null}}},
   {"data":{"name":"rand"},"transform":[{"filter":{"field":"s","equal":"rₜ Random"}}],
    "mark":{"type":"line","color":"#111","strokeWidth":1},
    "encoding":{"x":{"field":"K","type":"quantitative","axis":null},"y":{"field":"v","type":"quantitative","axis":null}}},
   {"data":{"name":"dice"},"transform":[{"filter":{"field":"s","equal":"rₜ 2-Level"}}],
    "mark":{"type":"rule","strokeWidth":1.2,"color":"#000000"},
    "encoding":{"x":{"field":"K","type":"quantitative","axis":null},"y":{"field":"lo","type":"quantitative","axis":null},"y2":{"field":"hi"}}},
   {"data":{"name":"dice"},"transform":[{"filter":{"field":"s","equal":"rₜ 2-Level"}}],
    "mark":{"type":"tick","orient":"horizontal","size":8,"thickness":1.2,"color":"#000000"},
    "encoding":{"x":{"field":"K","type":"quantitative","axis":null},"y":{"field":"hi","type":"quantitative","axis":null}}},
   {"data":{"name":"dice"},"transform":[{"filter":{"field":"s","equal":"rₜ 2-Level"}}],
    "mark":{"type":"tick","orient":"horizontal","size":8,"thickness":1.2,"color":"#000000"},
    "encoding":{"x":{"field":"K","type":"quantitative","axis":null},"y":{"field":"lo","type":"quantitative","axis":null}}},
   {"data":{"name":"dice"},"transform":[{"filter":{"field":"s","equal":"rₜ 2-Level"}}],
    "mark":{"type":"point","filled":true,"size":40,"opacity":1},
    "encoding":{"x":{"field":"K","type":"quantitative","axis":{"orient":"bottom","values":[0,200,400,600,800,1000],"format":"d","title":"K","tickSize":-4,"labelPadding":10.6,"minExtent":14,"maxExtent":14,"titlePadding":-1.5}},
     "y":{"field":"v","type":"quantitative","axis":{"orient":"left","values":[0.35,0.4,0.45,0.5,0.55,0.6,0.65],"format":".2f","title":"Dice Coefficient","tickSize":-4,"labelPadding":9,"minExtent":19,"maxExtent":19,"titlePadding":3}},
     "color":{"field":"s","type":"nominal","scale":{"domain":["rₜ 2-Level","rₜ Mean","rₜ Random"],"range":["#000000","#203a7a","#555555"]},"legend":{"orient":"none","legendX":158,"legendY":16,"symbolSize":40,"rowPadding":6}},
     "shape":{"field":"s","type":"nominal","scale":{"domain":["rₜ 2-Level","rₜ Mean","rₜ Random"],"range":["circle","circle","M-1,-0.16L1,-0.16L1,0.16L-1,0.16Z"]},"legend":{"orient":"none","legendX":158,"legendY":16,"symbolSize":40,"rowPadding":6}}}}
  ],
  "resolve":{"axis":{"x":"independent","y":"independent"}}}
 ],
 "spacing":9,
 "resolve":{"scale":{"color":"independent","shape":"independent"},"legend":{"color":"independent","shape":"independent"}}},
{"hconcat":[
 {"width":226,"height":213,"title":"e",
  "data":{"name":"silT"},
  "layer":[
   {"transform":[{"filter":"datum.s != 'Random'"}],
    "mark":{"type":"rule","strokeWidth":3.5,"color":"#b07cb0","opacity":0.17},
    "encoding":{"x":{"field":"K","type":"quantitative","scale":{"domain":[0,1050],"nice":false},"axis":{"orient":"top","values":[0,200,400,600,800,1000],"labels":false,"title":null,"tickSize":-4,"minExtent":0,"maxExtent":0}},
     "y":{"field":"lo","type":"quantitative","scale":{"domain":[0.75,1.0],"nice":false,"zero":false},"axis":{"orient":"right","values":[0.75,0.8,0.85,0.9,0.95,1.0],"labels":false,"title":null,"tickSize":-4,"minExtent":0,"maxExtent":0}},
     "y2":{"field":"hi"}}},
   {"transform":[{"filter":"datum.s == 'Random'"}],
    "mark":{"type":"rule","strokeWidth":1.1,"color":"#5b1d56"},
    "encoding":{"x":{"field":"K","type":"quantitative","axis":null},"y":{"field":"lo","type":"quantitative","axis":null},"y2":{"field":"hi"}}},
   {"mark":{"type":"tick","orient":"horizontal","size":8,"thickness":1.2},
    "encoding":{"x":{"field":"K","type":"quantitative","axis":null},"y":{"field":"hi","type":"quantitative","axis":null},
     "fill":{"condition":[{"test":"datum.s == 'rₜ 2-Level'","value":"#000000"},{"test":"datum.s == 'rₛ 2-Level'","value":"#d43a52"},{"test":"datum.s == 'Random'","value":"#5b1d56"},{"test":"datum.s == 'rₜ Mean'","value":"#5870a8"}],"value":"#f29a2e"}}},
   {"mark":{"type":"tick","orient":"horizontal","size":8,"thickness":1.2},
    "encoding":{"x":{"field":"K","type":"quantitative","axis":null},"y":{"field":"lo","type":"quantitative","axis":null},
     "fill":{"condition":[{"test":"datum.s == 'rₜ 2-Level'","value":"#000000"},{"test":"datum.s == 'rₛ 2-Level'","value":"#d43a52"},{"test":"datum.s == 'Random'","value":"#5b1d56"},{"test":"datum.s == 'rₜ Mean'","value":"#5870a8"}],"value":"#f29a2e"}}},
   {"mark":{"type":"point","filled":true,"size":40,"opacity":1},
    "encoding":{"x":{"field":"K","type":"quantitative","axis":{"orient":"bottom","values":[0,200,400,600,800,1000],"format":"d","title":"K","tickSize":-4,"labelPadding":10.6,"minExtent":14,"maxExtent":14,"titlePadding":-1.5}},
     "y":{"field":"v","type":"quantitative","axis":{"orient":"left","values":[0.75,0.8,0.85,0.9,0.95,1.0],"format":".2f","title":"rₜ Silhouette","tickSize":-4,"labelPadding":12.5,"minExtent":21,"maxExtent":21,"titlePadding":0}},
     "color":{"field":"s","type":"nominal","scale":{"domain":["rₜ 2-Level","rₛ 2-Level","Random","rₜ Mean","rₛ Mean"],"range":["#000000","#c8143a","#5b1d56","#203a7a","#f29a2e"]},"legend":{"orient":"none","direction":"horizontal","legendX":14,"legendY":175,"columns":3,"symbolSize":42,"labelFontSize":8.5,"rowPadding":6,"columnPadding":6}},
     "shape":{"field":"s","type":"nominal","scale":{"domain":["rₜ 2-Level","rₛ 2-Level","Random","rₜ Mean","rₛ Mean"],"range":["circle","square","M0,-1L0.235,-0.324L0.951,-0.309L0.38,0.124L0.588,0.809L0,0.4L-0.588,0.809L-0.38,0.124L-0.951,-0.309L-0.235,-0.324Z","circle","diamond"]},"legend":{"orient":"none","direction":"horizontal","legendX":14,"legendY":175,"columns":3,"symbolSize":42,"labelFontSize":8.5,"rowPadding":6,"columnPadding":6}}}}
  ],
  "resolve":{"axis":{"x":"independent","y":"independent"}}},
 {"width":226,"height":213,"title":"f",
  "data":{"name":"silS"},
  "layer":[
   {"transform":[{"filter":"datum.s != 'Random'"}],
    "mark":{"type":"rule","strokeWidth":3.5,"color":"#b07cb0","opacity":0.17},
    "encoding":{"x":{"field":"K","type":"quantitative","scale":{"domain":[0,1050],"nice":false},"axis":{"orient":"top","values":[0,200,400,600,800,1000],"labels":false,"title":null,"tickSize":-4,"minExtent":0,"maxExtent":0}},
     "y":{"field":"lo","type":"quantitative","scale":{"domain":[0.75,1.0],"nice":false,"zero":false},"axis":{"orient":"right","values":[0.75,0.8,0.85,0.9,0.95,1.0],"labels":false,"title":null,"tickSize":-4,"minExtent":0,"maxExtent":0}},
     "y2":{"field":"hi"}}},
   {"transform":[{"filter":"datum.s == 'Random'"}],
    "mark":{"type":"rule","strokeWidth":1.1,"color":"#5b1d56"},
    "encoding":{"x":{"field":"K","type":"quantitative","axis":null},"y":{"field":"lo","type":"quantitative","axis":null},"y2":{"field":"hi"}}},
   {"mark":{"type":"tick","orient":"horizontal","size":8,"thickness":1.2},
    "encoding":{"x":{"field":"K","type":"quantitative","axis":null},"y":{"field":"hi","type":"quantitative","axis":null},
     "fill":{"condition":[{"test":"datum.s == 'rₜ 2-Level'","value":"#000000"},{"test":"datum.s == 'rₛ 2-Level'","value":"#d43a52"},{"test":"datum.s == 'Random'","value":"#5b1d56"},{"test":"datum.s == 'rₜ Mean'","value":"#5870a8"}],"value":"#f29a2e"}}},
   {"mark":{"type":"tick","orient":"horizontal","size":8,"thickness":1.2},
    "encoding":{"x":{"field":"K","type":"quantitative","axis":null},"y":{"field":"lo","type":"quantitative","axis":null},
     "fill":{"condition":[{"test":"datum.s == 'rₜ 2-Level'","value":"#000000"},{"test":"datum.s == 'rₛ 2-Level'","value":"#d43a52"},{"test":"datum.s == 'Random'","value":"#5b1d56"},{"test":"datum.s == 'rₜ Mean'","value":"#5870a8"}],"value":"#f29a2e"}}},
   {"mark":{"type":"point","filled":true,"size":40,"opacity":1},
    "encoding":{"x":{"field":"K","type":"quantitative","axis":{"orient":"bottom","values":[0,200,400,600,800,1000],"format":"d","title":"K","tickSize":-4,"labelPadding":10.6,"minExtent":14,"maxExtent":14,"titlePadding":-1.5}},
     "y":{"field":"v","type":"quantitative","axis":{"orient":"left","values":[0.75,0.8,0.85,0.9,0.95,1.0],"format":".2f","title":"rₛ Silhouette","tickSize":-4,"labelPadding":9,"minExtent":19,"maxExtent":19,"titlePadding":3}},
     "color":{"field":"s","type":"nominal","scale":{"domain":["rₜ 2-Level","rₛ 2-Level","Random","rₜ Mean","rₛ Mean"],"range":["#000000","#c8143a","#5b1d56","#203a7a","#f29a2e"]},"legend":{"orient":"none","direction":"horizontal","legendX":15,"legendY":175,"columns":3,"symbolSize":42,"labelFontSize":8.5,"rowPadding":6,"columnPadding":6}},
     "shape":{"field":"s","type":"nominal","scale":{"domain":["rₜ 2-Level","rₛ 2-Level","Random","rₜ Mean","rₛ Mean"],"range":["circle","square","M0,-1L0.235,-0.324L0.951,-0.309L0.38,0.124L0.588,0.809L0,0.4L-0.588,0.809L-0.38,0.124L-0.951,-0.309L-0.235,-0.324Z","circle","diamond"]},"legend":{"orient":"none","direction":"horizontal","legendX":15,"legendY":175,"columns":3,"symbolSize":42,"labelFontSize":8.5,"rowPadding":6,"columnPadding":6}}}}
  ],
  "resolve":{"axis":{"x":"independent","y":"independent"}}}
 ],
 "spacing":9,
 "resolve":{"scale":{"color":"independent","shape":"independent"},"legend":{"color":"independent","shape":"independent"}}}
]
}
